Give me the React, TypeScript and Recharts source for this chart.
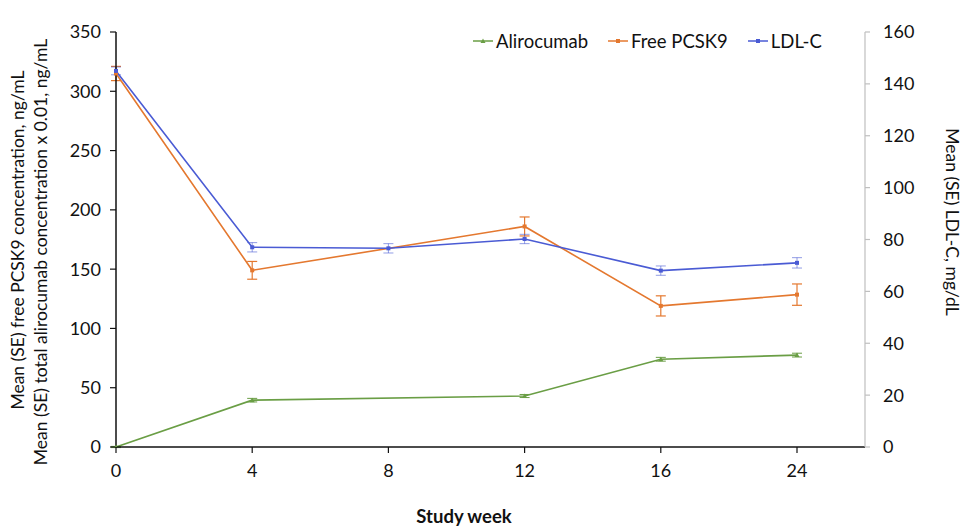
import React from 'react';
import {
  LineChart,
  Line,
  XAxis,
  YAxis,
  ErrorBar,
} from 'recharts';

const weeks = ['0', '4', '8', '12', '16', '24'];
const alirocumab = [0, 39.5, null, 43, 74, 77.5];
const alirocumabSE = [0.5, 1.5, null, 1.3, 1.6, 1.6];
const freePcsk9 = [315, 149, null, 186, 119, 128.5];
const freePcsk9SE = [6, 7.5, null, 8, 8.5, 9];
const ldlc = [145, 77, 76.6, 80.2, 68, 71];
const ldlcSE = [1.5, 1.8, 1.8, 1.8, 1.8, 2];

const leftTicks = [0, 50, 100, 150, 200, 250, 300, 350];
const rightTicks = [0, 20, 40, 60, 80, 100, 120, 140, 160];

const GREEN = '#6a9e45';
const ORANGE = '#e4782f';
const BLUE = '#4a5bd4';
const FONT = 'Lato, "Open Sans", sans-serif';

const data = weeks.map((w, i) => ({
  week: w,
  alirocumab: alirocumab[i],
  alirocumabSE: alirocumabSE[i],
  freePcsk9: freePcsk9[i],
  freePcsk9SE: freePcsk9SE[i],
  ldlc: ldlc[i],
  ldlcSE: ldlcSE[i],
}));

const squareDot = (color: string) => (props: any) => {
  const { cx, cy, index } = props;
  if (cx == null || cy == null || props.value == null) return <g key={index} />;
  return <rect key={index} x={cx - 2} y={cy - 2} width={4} height={4} fill={color} />;
};

const triDot = (color: string) => (props: any) => {
  const { cx, cy, index } = props;
  if (cx == null || cy == null || props.value == null) return <g key={index} />;
  return (
    <path
      key={index}
      d={`M${cx - 2.5},${cy + 2} L${cx + 2.5},${cy + 2} L${cx},${cy - 2.5} Z`}
      fill={color}
    />
  );
};

const legendItems = [
  { name: 'Alirocumab', color: GREEN, tri: true },
  { name: 'Free PCSK9', color: ORANGE, tri: false },
  { name: 'LDL-C', color: BLUE, tri: false },
];

const tickStyle = { fill: '#111', fontSize: 18, fontFamily: FONT };

export default function App() {
  return (
    <div
      style={{
        position: 'absolute',
        top: 0,
        left: 0,
        width: 964,
        height: 529,
        background: '#fff',
        fontFamily: FONT,
      }}
    >
      <LineChart
        width={964}
        height={529}
        data={data}
        margin={{ top: 32, right: 0, bottom: 0, left: 0 }}
      >
        <XAxis
          dataKey="week"
          height={82}
          padding={{ left: 0, right: 68 }}
          axisLine={{ stroke: '#111', strokeWidth: 1.5 }}
          tickLine={{ stroke: '#111', strokeWidth: 1.2 }}
          tickSize={6}
          tickMargin={11}
          tick={tickStyle}
          interval={0}
        />
        <YAxis
          yAxisId="left"
          width={116}
          domain={[0, 350]}
          ticks={leftTicks}
          axisLine={{ stroke: '#111', strokeWidth: 1.5 }}
          tickLine={{ stroke: '#111', strokeWidth: 1.2 }}
          tickSize={6}
          tickMargin={9}
          tick={tickStyle}
          allowDataOverflow
        />
        <YAxis
          yAxisId="right"
          orientation="right"
          width={99}
          domain={[0, 160]}
          ticks={rightTicks}
          axisLine={{ stroke: '#bfbfbf', strokeWidth: 1.2 }}
          tickLine={{ stroke: '#bfbfbf', strokeWidth: 1.2 }}
          tickSize={5}
          tickMargin={13}
          tick={tickStyle}
        />
        <Line
          yAxisId="left"
          dataKey="alirocumab"
          name="Alirocumab"
          stroke={GREEN}
          strokeWidth={1.6}
          dot={triDot(GREEN)}
          activeDot={false}
          connectNulls
          isAnimationActive={false}
        >
          <ErrorBar dataKey="alirocumabSE" width={5} stroke={GREEN} strokeWidth={1} />
        </Line>
        <Line
          yAxisId="left"
          dataKey="freePcsk9"
          name="Free PCSK9"
          stroke={ORANGE}
          strokeWidth={1.6}
          dot={squareDot(ORANGE)}
          activeDot={false}
          connectNulls
          isAnimationActive={false}
        >
          <ErrorBar dataKey="freePcsk9SE" width={5} stroke={ORANGE} strokeWidth={1.2} />
        </Line>
        <Line
          yAxisId="right"
          dataKey="ldlc"
          name="LDL-C"
          stroke={BLUE}
          strokeWidth={1.6}
          dot={squareDot(BLUE)}
          activeDot={false}
          connectNulls
          isAnimationActive={false}
        >
          <ErrorBar dataKey="ldlcSE" width={5} stroke={BLUE} strokeWidth={1} strokeOpacity={0.6} />
        </Line>
      </LineChart>

      <div
        style={{
          position: 'absolute',
          left: 472,
          top: 30,
          display: 'flex',
          alignItems: 'center',
          fontSize: 18.5,
          color: '#111',
        }}
      >
        {legendItems.map((it) => (
          <div key={it.name} style={{ display: 'flex', alignItems: 'center', marginRight: 19 }}>
            <svg width={22} height={10} style={{ marginRight: 2 }}>
              <line x1={1} y1={5} x2={21} y2={5} stroke={it.color} strokeWidth={1.5} />
              {it.tri ? (
                <path d="M8.5,7 L13.5,7 L11,2.5 Z" fill={it.color} />
              ) : (
                <rect x={9} y={3} width={4} height={4} fill={it.color} />
              )}
            </svg>
            <span>{it.name}</span>
          </div>
        ))}
      </div>

      <div
        style={{
          position: 'absolute',
          left: 18,
          top: 240,
          transform: 'translate(-50%, -50%) rotate(-90deg)',
          whiteSpace: 'nowrap',
          fontSize: 17.5,
          lineHeight: '20px',
          color: '#111',
        }}
      >
        Mean (SE) free PCSK9 concentration, ng/mL
      </div>
      <div
        style={{
          position: 'absolute',
          left: 41,
          top: 252,
          transform: 'translate(-50%, -50%) rotate(-90deg)',
          whiteSpace: 'nowrap',
          fontSize: 17.5,
          lineHeight: '20px',
          color: '#111',
        }}
      >
        Mean (SE) total alirocumab concentration x 0.01, ng/mL
      </div>
      <div
        style={{
          position: 'absolute',
          left: 952,
          top: 222,
          transform: 'translate(-50%, -50%) rotate(90deg)',
          whiteSpace: 'nowrap',
          fontSize: 17.5,
          lineHeight: '20px',
          color: '#111',
        }}
      >
        Mean (SE) LDL-C, mg/dL
      </div>
      <div
        style={{
          position: 'absolute',
          left: 464,
          top: 516,
          transform: 'translate(-50%, -50%)',
          whiteSpace: 'nowrap',
          fontSize: 18.5,
          lineHeight: '20px',
          fontWeight: 700,
          color: '#111',
        }}
      >
        Study week
      </div>
    </div>
  );
}
